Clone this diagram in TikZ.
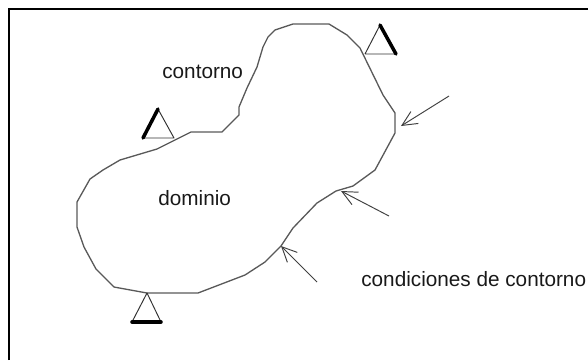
\documentclass[tikz,border=0pt]{standalone}
\usepackage{fontspec}
\setmainfont{Liberation Sans}
\usetikzlibrary{arrows.meta}
\tikzset{
  contour/.style={draw=black!65,line width=.75pt,line join=round},
  support/.style={draw=black!80,line width=.55pt,line join=round},
  fixed/.style={black,line width=2pt,line cap=round},
  load/.style={draw=black!75,line width=.55pt,-{Straight Barb[length=8.5pt,width=8pt,line width=.55pt]}},
  label/.style={anchor=base west,inner sep=0pt,text=black!90,font=\fontsize{11.8}{14}\selectfont}
}
\begin{document}
\begin{tikzpicture}[x=.02cm,y=-.02cm]
\useasboundingbox (0,0) rectangle (588,360);
\coordinate(P) at (147,293);
\coordinate(Q1) at (143,138);
\coordinate(Q2) at (174,138);
\coordinate(Q3) at (158,109);
\coordinate(R1) at (365,54);
\coordinate(R2) at (396,54);
\coordinate(R3) at (380,25);
\coordinate(S1) at (132,322);
\coordinate(S2) at (161,322);
\coordinate(A1) at (449,96);
\coordinate(A2) at (401,126);
\coordinate(B1) at (389,216);
\coordinate(B2) at (341,191);
\coordinate(C1) at (317,282);
\coordinate(C2) at (281,246);
% frame
\draw[black,line width=1.5pt] (9,360)--(9,9)--(588,9);
% boundary
\draw[contour] (P)--(198,293)--(245,275)--(265,262)--(C2)--(293,228)--(317,203)--(336,191)--(353,186)--(375,170)--(395,133)--(395,113)--(383,95)--(360,48)--(347,35)--(329,24)--(293,24)--(275,30)--(268,37)--(263,47)--(257,67)--(247,88)--(239,107)--(239,115)--(222,132)--(191,132)--(157,149)--(120,160)--(103,170)--(90,179)--(77,202)--(77,227)--(84,247)--(96,269)--(114,287)--cycle;
% supports
\draw[support] (Q1)--(Q2)--(Q3);
\draw[fixed] (Q1)--(Q3);
\draw[support] (R1)--(R2) (R1)--(R3);
\draw[fixed] (R2)--(R3);
\draw[support] (S1)--(P)--(S2);
\draw[fixed] (S1)--(S2);
% loads
\draw[load] (A1)--(A2);
\draw[load] (B1)--(B2);
\draw[load] (C1)--(C2);
\node[label] (contorno) at (162,78) {contorno};
\node[label] (dominio) at (158,205) {dominio};
\node[label] (condiciones) at (361,286) {condiciones de contorno};
\end{tikzpicture}
\end{document}
